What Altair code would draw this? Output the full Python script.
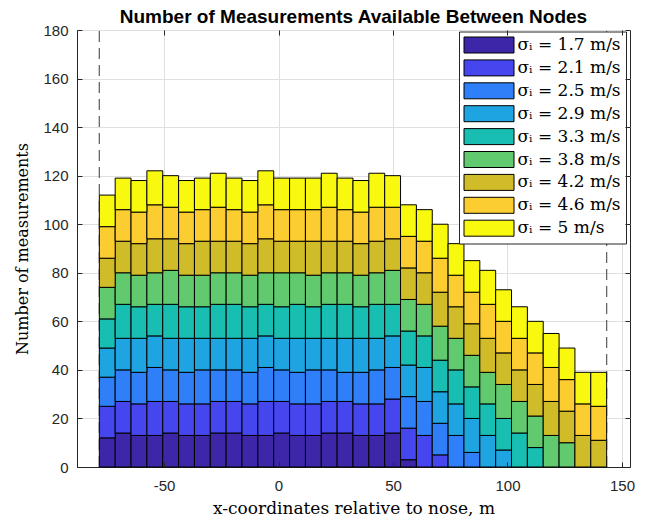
import altair as alt
import pandas as pd
import numpy as np

# ---- data ----
sigma = ["1.7", "2.1", "2.5", "2.9", "3.3", "3.8", "4.2", "4.6", "5"]
colors = ["#3E26A8", "#4646EE", "#2E7FF8", "#1EA4E0", "#17BEB1",
          "#62CA6E", "#D0BB29", "#FCCD31", "#F8F90F"]

c17 = [12, 14, 13, 13, 14, 13, 13, 14, 14, 13, 13, 14, 13, 13, 14, 14, 13, 13, 14, 3,
       0, 0, 0, 0, 0, 0, 0, 0, 0, 0, 0, 0]
c21 = [13, 13, 13, 14, 13, 13, 13, 13, 13, 13, 14, 13, 13, 13, 13, 13, 13, 13, 14, 13, 13, 5,
       0, 0, 0, 0, 0, 0, 0, 0, 0, 0]
c25 = [12, 13, 13, 14, 13, 13, 14, 13, 13, 13, 14, 13, 13, 14, 13, 12, 13, 14, 13, 13, 14, 13, 13, 6,
       0, 0, 0, 0, 0, 0, 0, 0]
c29 = [12, 13, 14, 13, 13, 14, 13, 13, 13, 14, 13, 13, 14, 13, 13, 14, 14, 13, 13, 13, 14, 13, 13, 14, 13, 7,
       0, 0, 0, 0, 0, 0]
c33 = [12, 14, 13, 13, 14, 13, 13, 14, 14, 13, 13, 13, 14, 13, 14, 14, 13, 14, 13, 14, 13, 13, 14, 13, 13, 13, 14, 8,
       0, 0, 0, 0]
c38 = [13, 13, 13, 13, 14, 13, 13, 13, 13, 13, 13, 14, 13, 13, 13, 13, 13, 13, 14, 13, 13, 14, 13, 13, 13, 14, 13, 13, 13, 10,
       0, 0]
c42 = [12, 13, 13, 14, 13, 13, 14, 13, 13, 13, 14, 13, 13, 14, 13, 13, 13, 13, 13, 13, 13, 14, 13, 13, 14, 13, 13, 13, 14, 13, 13, 11]
c46 = [13, 13, 13, 14, 13, 13, 13, 14, 13, 13, 14, 13, 13, 13, 14, 13, 13, 14, 13, 13, 13, 14, 13, 13, 14, 13, 13, 13, 14, 13, 13, 14]
c50 = [13, 13, 13, 14, 13, 13, 13, 14, 13, 13, 14, 13, 13, 13, 14, 13, 13, 14, 13, 13, 13, 14, 13, 13, 14, 13, 13, 13, 14, 13, 13, 14]
counts = [c17, c21, c25, c29, c33, c38, c42, c46, c50]

node_left = [-78.25]              # dashed node positions
node_right = [143.3]
bin_left, bin_right, n_bins = -78.25, 143.3, 32
x_ticks = [-50, 0, 50, 100, 150]
y_ticks = [0, 20, 40, 60, 80, 100, 120, 140, 160, 180]

labels = [f"σᵢ = {s} m/s" for s in sigma]

edges = np.linspace(bin_left, bin_right, n_bins + 1)
rows = []
for si, lab in enumerate(labels):
    for b, c in enumerate(counts[si]):
        if c > 0:
            rows.append({"x0": edges[b], "x1": edges[b + 1], "n": c,
                         "series": lab, "ord": si})
df = pd.DataFrame(rows)

W, H = 553, 437
AX = "#262626"
SANS = "Liberation Sans"
SERIF = "DejaVu Serif"

xscale = alt.Scale(domain=[-88, 153.5], nice=False, zero=False)
yscale = alt.Scale(domain=[0, 180], nice=False)

xaxis = alt.Axis(values=x_ticks, labelExpr="'' + datum.value", ticks=False,
                 orient="bottom",
                 labelPadding=11, labelFont=SANS, labelFontSize=15, labelColor=AX,
                 domainColor=AX, grid=True, gridColor="#dfdfdf",
                 title="x-coordinates relative to nose, m",
                 titleFont=SERIF, titleFontSize=17, titleFontWeight="normal",
                 titleColor="black", titleY=46, titleX=W / 2, titleBaseline="alphabetic")
yaxis = alt.Axis(values=y_ticks, ticks=False, orient="left", labelPadding=9, labelFont=SANS,
                 labelFontSize=15, labelColor=AX, domainColor=AX, grid=True,
                 gridColor="#dfdfdf", title="Number of measurements",
                 titleFont=SERIF, titleFontSize=16, titleFontWeight="normal",
                 titleColor="black", titleX=-55, titleY=H / 2, titleAngle=270,
                 titleAlign="center", titleBaseline="middle")


def tick_axis(orient, values):
    # inward MATLAB-style ticks: axis pushed 5px into the plot, ticks 5px long
    return alt.Axis(orient=orient, values=values, offset=-5, tickSize=5,
                    tickColor=AX, tickWidth=1, labels=False, domain=False,
                    grid=False, title=None, zindex=1)


dash = dict(strokeDash=[11, 6], color="#666666", strokeWidth=1.3)

rule_left = alt.Chart(pd.DataFrame({"x": node_left})).mark_rule(**dash).encode(
    x=alt.X("x:Q", scale=xscale, axis=tick_axis("bottom", x_ticks)),
    y=alt.Y(datum=0, scale=yscale, axis=tick_axis("left", y_ticks)),
    y2=alt.Y2(datum=180),
)
rule_right = alt.Chart(pd.DataFrame({"x": node_right})).mark_rule(**dash).encode(
    x=alt.X("x:Q", scale=xscale, axis=tick_axis("top", x_ticks)),
    y=alt.Y(datum=0, scale=yscale, axis=tick_axis("right", y_ticks)),
    y2=alt.Y2(datum=180),
)

bars = alt.Chart(df).transform_stack(
    stack="n", groupby=["x0"], as_=["y0", "y1"], sort=[alt.SortField("ord", "ascending")]
).mark_bar(stroke="black", strokeWidth=1, opacity=1).encode(
    x=alt.X("x0:Q", scale=xscale, axis=xaxis),
    x2="x1:Q",
    y=alt.Y("y0:Q", scale=yscale, axis=yaxis),
    y2="y1:Q",
    color=alt.Color("series:N", scale=alt.Scale(domain=labels, range=colors),
                    legend=alt.Legend(
                        orient="none", legendX=382, legendY=1.5, title=None,
                        symbolType="M-3.125,-1L3.125,-1L3.125,1L-3.125,1Z",
                        symbolSize=256, symbolOffset=16.5, labelOffset=20,
                        symbolStrokeColor="black", symbolStrokeWidth=1,
                        symbolOpacity=1, labelFont=SERIF, labelFontSize=17,
                        labelColor="black", labelLimit=0, rowPadding=1.9,
                        padding=5, strokeColor=AX, fillColor="white")),
)

chart = alt.layer(rule_left, rule_right, bars).resolve_axis(
    x="independent", y="independent"
).properties(
    width=W, height=H,
    title=alt.TitleParams("Number of Measurements Available Between Nodes",
                          font=SANS, fontSize=19, fontWeight="bold", color="black",
                          anchor="middle", frame="group", offset=-4),
    autosize=alt.AutoSizeParams(type="none"),
    padding={"left": 77, "top": 30, "right": 36, "bottom": 53},
).configure_view(stroke=AX, strokeWidth=1)

chart.save("out.html", embed_options={"renderer": "svg", "actions": False})
